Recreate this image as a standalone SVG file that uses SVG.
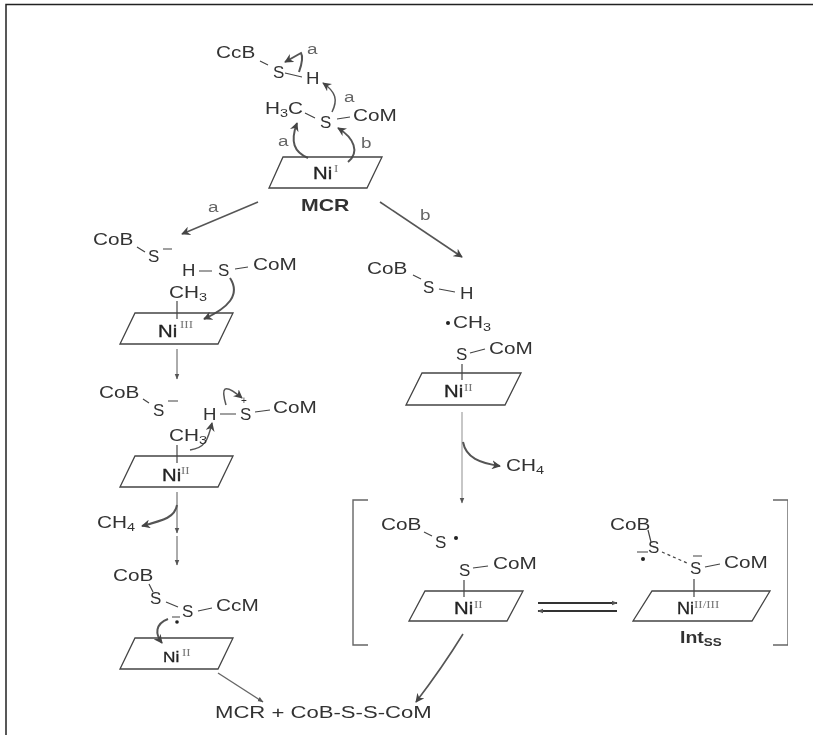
<svg xmlns="http://www.w3.org/2000/svg" width="813" height="735" viewBox="0 0 813 735">
<defs>
<marker id="ah" viewBox="0 0 10 10" refX="9" refY="5" markerWidth="9" markerHeight="9" markerUnits="userSpaceOnUse" orient="auto"><path d="M0 0L10 5L0 10L3 5Z" fill="#444"/></marker>
<marker id="as" viewBox="0 0 10 10" refX="9" refY="5" markerWidth="6" markerHeight="6" markerUnits="userSpaceOnUse" orient="auto"><path d="M0 1L10 5L0 9Z" fill="#555"/></marker>
<filter id="soft" x="0" y="0" width="100%" height="100%"><feGaussianBlur stdDeviation="0.45"/></filter>
</defs>
<style>
text{font-family:"Liberation Sans",Arial,sans-serif;font-size:16.500px;fill:#333}
.n{font-size:16px;fill:#222;stroke:#222;stroke-width:.3}
.sup{font-family:"Liberation Serif",serif;font-size:10px;fill:#777}
.l{font-size:15px;fill:#666}
.sub{font-size:11.500px}
.b{font-size:16px;font-weight:bold;fill:#333}
.pg{fill:none;stroke:#444;stroke-width:1.3}
.bond{fill:none;stroke:#444;stroke-width:1.2}
.c{fill:none;stroke:#555;stroke-width:2;marker-end:url(#ah)}
.t{fill:none;stroke:#666;stroke-width:1.1;marker-end:url(#as)}
.e{fill:none;stroke:#333;stroke-width:1.800;marker-end:url(#as)}
.d{fill:#222}
.br{fill:none;stroke:#666;stroke-width:1.4}
</style>
<rect width="813" height="735" fill="#fff"/>
<path d="M6 735V4.500H813" fill="none" stroke="#222" stroke-width="1.500"/>
<g filter="url(#soft)">
<g id="connectors">
<path class="c" d="M258 202L182 234" style="stroke-width:1.600"/>
<path class="c" d="M380 202L462 257" style="stroke-width:1.600"/>
<path class="c" d="M299 72Q304 58 301 53L285 62"/>
<path class="c" d="M332 112C338 100 336 92 323 83" style="stroke-width:1.500"/>
<path class="c" d="M308 158C294 152 290 142 297 123"/>
<path class="c" d="M348 162C360 152 354 138 338 128"/>
<path class="c" d="M230 278C241 295 228 308 204 319"/>
<path class="t" d="M177 349V379"/>
<path class="c" d="M190 450C205 448 208 440 212 423" style="stroke-width:1.400"/>
<path class="c" d="M226 405C221 388 223 382 242 398" style="stroke-width:1.500"/>
<path class="t" d="M177 492V533"/>
<path class="t" d="M177 536V565"/>
<path class="c" d="M177 505C175 517 165 520 142 526"/>
<path class="c" d="M168 619C155 624 155 634 162 643"/>
<path class="t" d="M218 673L263 702" style="stroke-width:1.400"/>
<path class="t" d="M462 412V503" style="stroke:#999"/>
<path class="c" d="M463 442C466 458 480 463 500 466"/>
<path class="c" d="M463 634Q442 668 416 702" style="stroke-width:1.600"/>
<path class="e" d="M538 603H617"/>
<path class="e" d="M617 611H538"/>
</g>
<g id="node-top">
<text transform="matrix(1.260 0 0 1 216 58)">CcB</text>
<text transform="matrix(1.030 0 0 1 273 78)">S</text>
<text transform="matrix(1.130 0 0 1 306 84)">H</text>
<path class="bond" d="M260 61L268 65M285 73L302 77"/>
<text class="l" transform="matrix(1.260 0 0 1 307 54)">a</text>
<text class="l" transform="matrix(1.260 0 0 1 344 102)">a</text>
<text transform="matrix(1.260 0 0 1 265 114)">H<tspan class="sub" dy="3">3</tspan><tspan dy="-3">C</tspan></text>
<text transform="matrix(1.030 0 0 1 320 128)">S</text>
<text transform="matrix(1.260 0 0 1 353 121)">CoM</text>
<path class="bond" d="M305 113L315 118M337 119L350 117"/>
<text class="l" transform="matrix(1.260 0 0 1 278 146)">a</text>
<text class="l" transform="matrix(1.260 0 0 1 361 148)">b</text>
<path class="pg" d="M283 157H382L367 188H269Z"/>
<text class="n" transform="matrix(1.270 0 0 1 313 179)">Ni</text><text class="sup" transform="matrix(1.300 0 0 1 334 172)">I</text>
<text class="b" transform="matrix(1.330 0 0 1 301 211)">MCR</text>
<text class="l" transform="matrix(1.260 0 0 1 208 212)">a</text>
<text class="l" transform="matrix(1.260 0 0 1 420 220)">b</text>
</g>
<g id="node-ni3">
<text transform="matrix(1.260 0 0 1 93 245)">CoB</text>
<text transform="matrix(1.030 0 0 1 148 262)">S</text>
<path class="bond" d="M137 247L145 252M163 249H172"/>
<text transform="matrix(1.130 0 0 1 182 276)">H</text>
<text transform="matrix(1.030 0 0 1 218 276)">S</text>
<text transform="matrix(1.260 0 0 1 253 270)">CoM</text>
<path class="bond" d="M199 271H212M235 269L248 267"/>
<text transform="matrix(1.260 0 0 1 169 298)">CH<tspan class="sub" dy="3">3</tspan></text>
<path class="bond" d="M177 301V319"/>
<path class="pg" d="M135 313H233L218 344H120Z"/>
<text class="n" transform="matrix(1.270 0 0 1 158 337)">Ni</text><text class="sup" transform="matrix(1.300 0 0 1 180 328)">III</text>
</g>
<g id="node-ni2-a">
<text transform="matrix(1.260 0 0 1 99 398)">CoB</text>
<text transform="matrix(1.030 0 0 1 153 416)">S</text>
<path class="bond" d="M143 399L149 403M168 401H178"/>
<text transform="matrix(1.130 0 0 1 203 420)">H</text>
<text transform="matrix(1.030 0 0 1 240 420)">S</text>
<text transform="matrix(1.260 0 0 1 273 413)">CoM</text>
<path class="bond" d="M220 414H236M255 412L270 410"/>
<text class="sub" x="241" y="404" style="font-size:10px">+</text>
<text transform="matrix(1.260 0 0 1 169 441)">CH<tspan class="sub" dy="3">3</tspan></text>
<path class="bond" d="M177 445V463"/>
<path class="pg" d="M135 456H233L218 487H120Z"/>
<text class="n" transform="matrix(1.270 0 0 1 162 481)">Ni</text><text class="sup" transform="matrix(1.300 0 0 1 181 474)">II</text>
<text transform="matrix(1.260 0 0 1 97 528)">CH<tspan class="sub" dy="3">4</tspan></text>
</g>
<g id="node-ni2-b">
<text transform="matrix(1.260 0 0 1 113 581)">CoB</text>
<text transform="matrix(1.030 0 0 1 150 604)">S</text>
<text transform="matrix(1.030 0 0 1 182 617)">S</text>
<text transform="matrix(1.260 0 0 1 216 611)">CcM</text>
<path class="bond" d="M149 584L153 592M166 602L178 607M198 611L212 608M172 617H180"/>
<circle class="d" cx="177" cy="622" r="1.800"/>
<path class="pg" d="M135 638H233L218 669H120Z"/>
<text class="n" transform="matrix(1.150 0 0 1 163 662)" style="font-size:15px">Ni</text><text class="sup" transform="matrix(1.300 0 0 1 182 656)">II</text>
</g>
<text id="product" transform="matrix(1.340 0 0 1 215 718)">MCR + CoB-S-S-CoM</text>
<g id="node-b1">
<text transform="matrix(1.260 0 0 1 367 274)">CoB</text>
<text transform="matrix(1.030 0 0 1 423 293)">S</text>
<text transform="matrix(1.130 0 0 1 460 299)">H</text>
<path class="bond" d="M413 275L421 279M439 289L455 292"/>
<circle class="d" cx="448" cy="323" r="2"/>
<text transform="matrix(1.260 0 0 1 453 328)">CH<tspan class="sub" dy="3">3</tspan></text>
<text transform="matrix(1.030 0 0 1 456 360)">S</text>
<text transform="matrix(1.260 0 0 1 489 354)">CoM</text>
<path class="bond" d="M470 353L485 349M462 364V380"/>
<path class="pg" d="M422 373H521L505 405H406Z"/>
<text class="n" transform="matrix(1.270 0 0 1 444 397)">Ni</text><text class="sup" transform="matrix(1.300 0 0 1 464 391)">II</text>
<text transform="matrix(1.260 0 0 1 506 471)">CH<tspan class="sub" dy="3">4</tspan></text>
</g>
<g id="node-b2">
<path class="br" d="M368 500H353V645H368"/>
<text transform="matrix(1.260 0 0 1 381 530)">CoB</text>
<text transform="matrix(1.030 0 0 1 435 548)">S</text>
<path class="bond" d="M424 532L432 536"/>
<circle class="d" cx="456" cy="538" r="2"/>
<text transform="matrix(1.030 0 0 1 459 576)">S</text>
<text transform="matrix(1.260 0 0 1 493 569)">CoM</text>
<path class="bond" d="M473 568L488 566M464 580V597"/>
<path class="pg" d="M425 591H523L507 621H409Z"/>
<text class="n" transform="matrix(1.270 0 0 1 454 614)">Ni</text><text class="sup" transform="matrix(1.300 0 0 1 474 608)">II</text>
</g>
<g id="node-int">
<path class="br" d="M773 500H788V645H773"/>
<text transform="matrix(1.260 0 0 1 610 530)">CoB</text>
<text transform="matrix(1.030 0 0 1 648 553)">S</text>
<text transform="matrix(1.030 0 0 1 690 574)">S</text>
<text transform="matrix(1.260 0 0 1 724 568)">CoM</text>
<path class="bond" d="M648 530L651 542M637 552H648M693 556H702M705 567L720 564M694 579V597"/>
<path class="bond" d="M662 552L687 563" stroke-dasharray="3 3"/>
<circle class="d" cx="643" cy="559" r="2"/>
<path class="pg" d="M652 591H770L752 621H633Z"/>
<text class="n" transform="matrix(1.130 0 0 1 677 614)">Ni</text><text class="sup" transform="matrix(1.300 0 0 1 694 608)">II/III</text>
<text class="b" transform="matrix(1.220 0 0 1 680 643)">Int<tspan class="sub" dy="3" style="font-size:11px">SS</tspan></text>
</g>
</g>
</svg>
